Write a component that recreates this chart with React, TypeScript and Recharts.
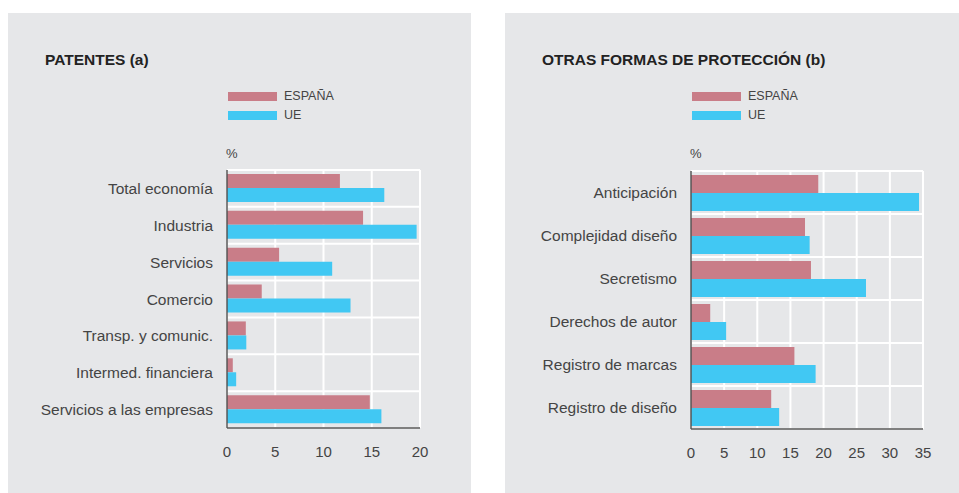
import React from 'react';
import { BarChart, Bar, XAxis, YAxis, CartesianGrid } from 'recharts';

const patentCategories = [
  'Total economía',
  'Industria',
  'Servicios',
  'Comercio',
  'Transp. y comunic.',
  'Intermed. financiera',
  'Servicios a las empresas',
];
const patentSpain = [11.7, 14.1, 5.4, 3.6, 1.95, 0.6, 14.8];
const patentUE = [16.3, 19.65, 10.9, 12.8, 2.0, 0.95, 16.0];
const patentTicks = [0, 5, 10, 15, 20];

const protCategories = [
  'Anticipación',
  'Complejidad diseño',
  'Secretismo',
  'Derechos de autor',
  'Registro de marcas',
  'Registro de diseño',
];
const protSpain = [19.2, 17.2, 18.1, 2.9, 15.6, 12.1];
const protUE = [34.4, 17.9, 26.4, 5.3, 18.8, 13.3];
const protTicks = [0, 5, 10, 15, 20, 25, 30, 35];

const seriesNames = ['ESPAÑA', 'UE'];
const seriesColors = ['#c97d88', '#41c8f3'];

const FONT = '"Liberation Sans", Arial, Helvetica, sans-serif';
const TEXT = '#444444';
const AXIS = '#555555';

interface PanelProps {
  title: string;
  categories: string[];
  spain: number[];
  ue: number[];
  ticks: number[];
  left: number;
  width: number;
  axisWidth: number;
  marginRight: number;
  marginTop: number;
  marginBottom: number;
  gap: number;
}

const Panel: React.FC<PanelProps> = ({
  title,
  categories,
  spain,
  ue,
  ticks,
  left,
  width,
  axisWidth,
  marginRight,
  marginTop,
  marginBottom,
  gap,
}) => {
  const data = categories.map((name, i) => ({ name, spain: spain[i], ue: ue[i] }));
  const height = 480;
  const n = categories.length;

  return (
    <div style={{ position: 'absolute', left, top: 13, width, height, background: '#e6e7e9' }}>
      <div
        style={{
          position: 'absolute',
          left: 37,
          top: 38,
          fontSize: 15.5,
          fontWeight: 'bold',
          color: '#222',
          whiteSpace: 'nowrap',
        }}
      >
        {title}
      </div>
      {seriesNames.map((s, i) => (
        <div key={s} style={{ position: 'absolute', left: axisWidth + 1, top: 79 + i * 19, display: 'flex', alignItems: 'center' }}>
          <div style={{ width: 49, height: 9, background: seriesColors[i] }} />
          <span style={{ marginLeft: 7, fontSize: 12.5, color: TEXT, lineHeight: '9px' }}>{s}</span>
        </div>
      ))}
      <div style={{ position: 'absolute', left: axisWidth - 1, top: 133, fontSize: 13, color: TEXT }}>%</div>
      <BarChart
        width={width}
        height={height}
        data={data}
        layout="vertical"
        margin={{ top: marginTop, right: marginRight, bottom: marginBottom, left: 0 }}
        barCategoryGap={gap}
        barGap={0}
      >
        <CartesianGrid
          stroke="#ffffff"
          strokeWidth={2}
          horizontalCoordinatesGenerator={({ offset }: any) =>
            Array.from({ length: n + 1 }, (_, i) => offset.top + (i * offset.height) / n)
          }
        />
        <XAxis
          type="number"
          domain={[ticks[0], ticks[ticks.length - 1]]}
          ticks={ticks}
          interval={0}
          height={40}
          tickSize={0}
          tickMargin={18}
          axisLine={{ stroke: AXIS, strokeWidth: 1.5 }}
          tickLine={false}
          tick={{ fill: TEXT, fontSize: 15, fontFamily: FONT }}
        />
        <YAxis
          type="category"
          dataKey="name"
          width={axisWidth}
          interval={0}
          tickSize={0}
          tickMargin={14}
          axisLine={{ stroke: AXIS, strokeWidth: 1.5 }}
          tickLine={false}
          tick={{ fill: TEXT, fontSize: 15.5, fontFamily: FONT }}
        />
        <Bar dataKey="spain" name={seriesNames[0]} fill={seriesColors[0]} isAnimationActive={false} />
        <Bar dataKey="ue" name={seriesNames[1]} fill={seriesColors[1]} isAnimationActive={false} />
      </BarChart>
    </div>
  );
};

export default function App() {
  return (
    <div style={{ position: 'absolute', left: 0, top: 0, width: 959, height: 493, background: '#fff', fontFamily: FONT }}>
      <Panel
        title="PATENTES (a)"
        categories={patentCategories}
        spain={patentSpain}
        ue={patentUE}
        ticks={patentTicks}
        left={8}
        width={463}
        axisWidth={219}
        marginRight={51}
        marginTop={157}
        marginBottom={25}
        gap={4}
      />
      <Panel
        title="OTRAS FORMAS DE PROTECCIÓN (b)"
        categories={protCategories}
        spain={protSpain}
        ue={protUE}
        ticks={protTicks}
        left={505}
        width={454}
        axisWidth={186}
        marginRight={36}
        marginTop={158}
        marginBottom={24}
        gap={4}
      />
    </div>
  );
}
